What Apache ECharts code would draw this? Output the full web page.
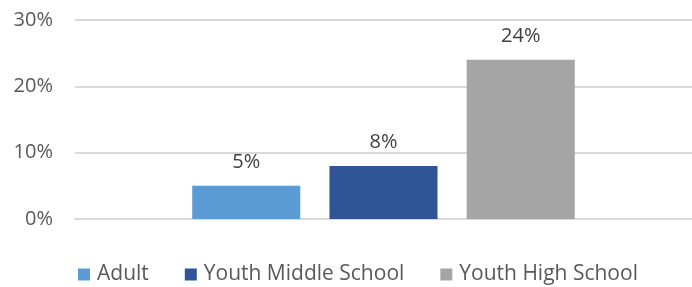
<!DOCTYPE html>
<html>
<head>
<meta charset="utf-8">
<script src="https://cdn.jsdelivr.net/npm/echarts@6/dist/echarts.min.js"></script>
<style>html,body{margin:0;padding:0;background:#fff;}#c{width:692px;height:287px;}</style>
</head>
<body>
<div id="c"></div>
<script>
const categories = [''];
const seriesNames = ['Adult', 'Youth Middle School', 'Youth High School'];
const seriesValues = [[5], [8], [24]];
const yTicks = [0, 10, 20, 30];
const colors = ['#5B9BD5', '#2F5597', '#A5A5A5'];

const chart = echarts.init(document.getElementById('c'));
const font = '"Open Sans", sans-serif';
chart.setOption({
  animation: false,
  grid: { left: 75, right: 0, top: 20, bottom: 68, containLabel: false },
  legend: {
    top: 259, left: 73,
    itemWidth: 12, itemHeight: 12, itemGap: 36,
    icon: 'rect',
    textStyle: { color: '#595959', fontSize: 21, fontFamily: font, padding: [0, 0, 0, 2] },
    data: seriesNames
  },
  xAxis: {
    type: 'category', data: categories,
    axisLine: { show: true, lineStyle: { color: '#D9D9D9', width: 2 } },
    axisTick: { show: false }, axisLabel: { show: false }
  },
  yAxis: {
    type: 'value', min: yTicks[0], max: yTicks[yTicks.length - 1], interval: 10,
    axisLine: { show: false }, axisTick: { show: false },
    axisLabel: { formatter: '{value}%', color: '#595959', fontSize: 20, fontFamily: font, margin: 22 },
    splitLine: { lineStyle: { color: '#D9D9D9', width: 2 } }
  },
  series: seriesNames.map((n, i) => ({
    name: n, type: 'bar', data: seriesValues[i],
    barGap: '27%', barCategoryGap: '38%',
    itemStyle: { color: colors[i] },
    label: { show: true, position: 'top', distance: 14, formatter: '{c}%', color: '#404040', fontSize: 20, fontFamily: font }
  }))
});
</script>
</body>
</html>
